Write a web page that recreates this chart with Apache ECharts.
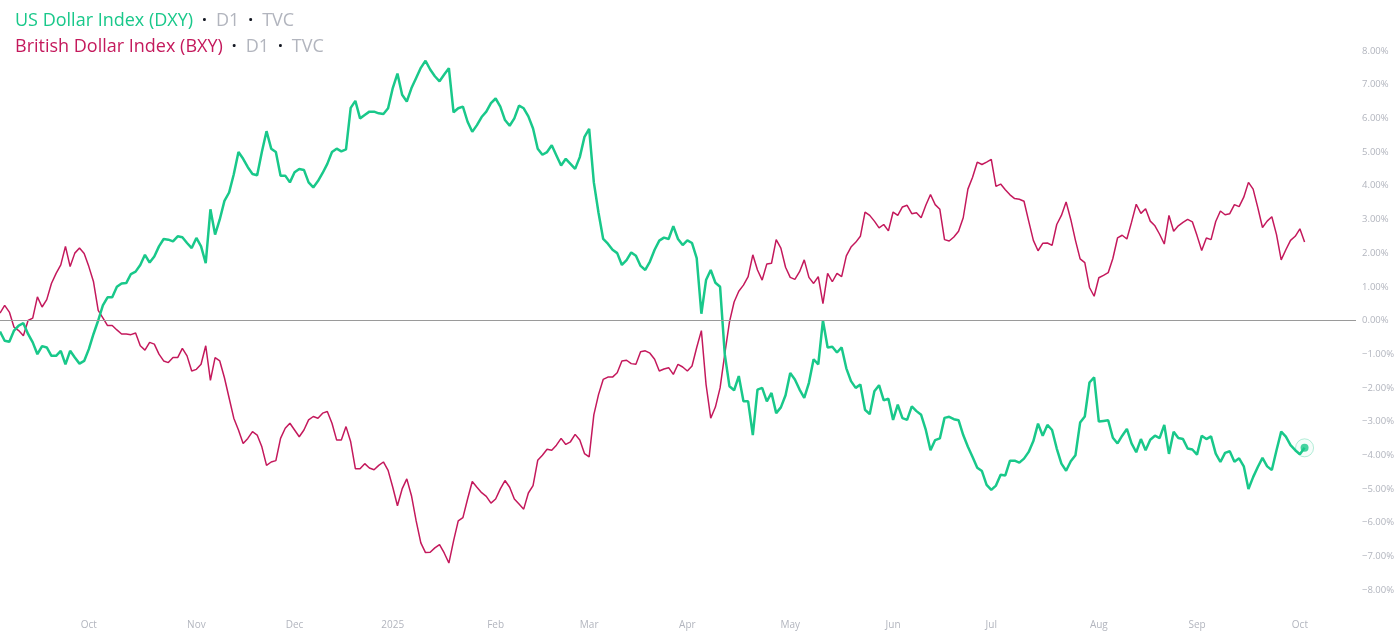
<!DOCTYPE html>
<html>
<head>
<meta charset="utf-8">
<script src="https://cdn.jsdelivr.net/npm/echarts@6/dist/echarts.min.js"></script>
<style>
  html, body { margin: 0; padding: 0; background: #ffffff; }
  #chart { width: 1400px; height: 635px; }
</style>
</head>
<body>
<div id="chart"></div>
<script>
// Percent change, one value per trading day starting 2024-09-04
const dxy = [
  -0.33,-0.6,-0.63,-0.3,-0.15,-0.08,-0.4,-0.65,-1.0,-0.76,
  -0.8,-1.05,-1.05,-0.9,-1.3,-0.9,-1.1,-1.28,-1.2,-0.85,
  -0.4,0.0,0.45,0.69,0.69,1.0,1.1,1.11,1.38,1.45,
  1.65,1.95,1.72,1.9,2.2,2.42,2.4,2.35,2.5,2.47,
  2.3,2.15,2.45,2.2,1.7,3.3,2.55,3.0,3.55,3.8,
  4.34,5.0,4.8,4.55,4.35,4.31,5.0,5.62,5.1,5.0,
  4.3,4.3,4.1,4.4,4.5,4.47,4.1,3.95,4.14,4.38,
  4.65,5.0,5.1,5.02,5.08,6.31,6.52,6.0,6.1,6.2,
  6.2,6.15,6.13,6.3,6.9,7.33,6.7,6.5,6.9,7.2,
  7.5,7.71,7.45,7.25,7.1,7.3,7.49,6.18,6.3,6.35,
  5.9,5.6,5.8,6.04,6.2,6.45,6.59,6.35,5.95,5.78,
  6.0,6.38,6.3,6.06,5.7,5.1,4.92,5.0,5.2,4.9,
  4.6,4.8,4.65,4.5,4.85,5.45,5.69,4.1,3.2,2.42,
  2.28,2.1,2.0,1.65,1.79,2.02,1.92,1.62,1.5,1.75,
  2.1,2.37,2.46,2.42,2.8,2.42,2.24,2.38,2.3,1.85,
  0.2,1.2,1.5,1.12,1.0,-1.0,-1.95,-2.07,-1.65,-2.4,
  -2.4,-3.4,-2.05,-2.0,-2.4,-2.15,-2.75,-2.58,-2.22,-1.56,
  -1.75,-2.05,-2.3,-1.85,-1.15,-1.3,0.0,-0.8,-0.78,-0.95,
  -0.8,-1.42,-1.8,-2.0,-1.9,-2.65,-2.78,-2.1,-1.92,-2.37,
  -2.32,-2.95,-2.5,-2.9,-2.95,-2.55,-2.69,-2.8,-3.25,-3.85,
  -3.55,-3.5,-2.89,-2.86,-2.93,-2.96,-3.4,-3.75,-4.05,-4.37,
  -4.47,-4.88,-5.03,-4.9,-4.58,-4.6,-4.16,-4.16,-4.22,-4.1,
  -3.9,-3.58,-3.06,-3.42,-3.1,-3.25,-3.8,-4.25,-4.46,-4.18,
  -4.0,-3.03,-2.85,-1.84,-1.69,-3.0,-2.98,-2.96,-3.48,-3.65,
  -3.42,-3.22,-3.65,-3.91,-3.52,-3.85,-3.54,-3.42,-3.49,-3.1,
  -3.96,-3.3,-3.49,-3.52,-3.8,-3.83,-3.98,-3.42,-3.52,-3.44,
  -3.95,-4.2,-3.93,-3.88,-4.19,-4.09,-4.33,-5.0,-4.65,-4.35,
  -4.08,-4.33,-4.44,-3.85,-3.3,-3.45,-3.7,-3.85,-3.97,-3.78
];
const bxy = [
  0.22,0.45,0.25,-0.2,-0.3,-0.45,0.0,0.07,0.7,0.4,
  0.62,1.1,1.4,1.65,2.2,1.6,2.0,2.15,1.99,1.6,
  1.15,0.3,0.08,-0.15,-0.15,-0.28,-0.4,-0.4,-0.42,-0.37,
  -0.75,-0.88,-0.65,-0.7,-1.0,-1.2,-1.25,-1.1,-1.1,-0.83,
  -1.05,-1.5,-1.45,-1.3,-0.75,-1.78,-1.1,-1.2,-1.7,-2.3,
  -2.9,-3.25,-3.65,-3.5,-3.3,-3.4,-3.75,-4.3,-4.2,-4.16,
  -3.5,-3.2,-3.05,-3.25,-3.45,-3.25,-2.95,-2.85,-2.9,-2.75,
  -2.7,-3.05,-3.55,-3.55,-3.15,-3.6,-4.4,-4.4,-4.25,-4.38,
  -4.43,-4.3,-4.2,-4.45,-4.95,-5.5,-5.0,-4.7,-5.2,-5.95,
  -6.6,-6.89,-6.88,-6.75,-6.65,-6.9,-7.2,-6.54,-5.95,-5.85,
  -5.3,-4.78,-4.95,-5.11,-5.22,-5.42,-5.3,-5.0,-4.75,-4.95,
  -5.3,-5.45,-5.6,-5.12,-4.9,-4.15,-4.0,-3.82,-3.85,-3.7,
  -3.5,-3.68,-3.6,-3.38,-3.55,-3.95,-4.05,-2.8,-2.2,-1.75,
  -1.68,-1.68,-1.55,-1.2,-1.18,-1.28,-1.3,-0.93,-0.9,-0.97,
  -1.15,-1.5,-1.44,-1.4,-1.6,-1.3,-1.38,-1.5,-1.35,-0.8,
  -0.3,-1.9,-2.9,-2.57,-2.0,-1.0,-0.05,0.55,0.87,1.05,
  1.3,1.95,1.5,1.2,1.68,1.7,2.4,2.15,1.58,1.28,
  1.22,1.45,1.8,1.28,1.1,1.3,0.5,1.4,1.15,1.4,
  1.3,1.92,2.18,2.32,2.5,3.22,3.12,2.95,2.75,2.85,
  2.66,3.22,3.12,3.37,3.42,3.17,3.2,3.05,3.42,3.74,
  3.44,3.3,2.4,2.36,2.48,2.65,3.05,3.9,4.25,4.7,
  4.63,4.7,4.78,3.98,4.05,3.88,3.73,3.62,3.6,3.54,
  2.95,2.38,2.07,2.29,2.3,2.23,2.85,3.12,3.52,3.0,
  2.38,1.83,1.72,0.98,0.72,1.27,1.34,1.42,1.84,2.45,
  2.53,2.42,2.92,3.45,3.18,3.32,2.95,2.81,2.56,2.27,
  3.12,2.65,2.81,2.91,3.0,2.93,2.52,2.08,2.45,2.4,
  2.94,3.25,3.14,3.17,3.44,3.38,3.66,4.1,3.9,3.35,
  2.76,2.95,3.08,2.55,1.8,2.1,2.38,2.5,2.72,2.33
];
const monthNames = ['Jan','Feb','Mar','Apr','May','Jun','Jul','Aug','Sep','Oct','Nov','Dec'];
const yTicks = [-8,-7,-6,-5,-4,-3,-2,-1,0,1,2,3,4,5,6,7,8];

// Trading-day calendar (weekdays, no Dec 25 / Jan 1), with empty space after the last bar
function tradingDays(y, m, d, count) {
  const out = [];
  const dt = new Date(Date.UTC(y, m, d));
  while (out.length < count) {
    const wd = dt.getUTCDay();
    const md = (dt.getUTCMonth() + 1) * 100 + dt.getUTCDate();
    if (wd !== 0 && wd !== 6 && md !== 1225 && md !== 101) out.push(dt.toISOString().slice(0, 10));
    dt.setUTCDate(dt.getUTCDate() + 1);
  }
  return out;
}
const categories = tradingDays(2024, 8, 4, 291);

const GREEN = '#19c88a';
const RED = '#c4195c';
const GRAY = '#b2b5be';
const last = dxy.length - 1;

function titleRich(color) {
  return {
    a: { color: color, fontSize: 18, fontWeight: 'normal', fontFamily: 'Open Sans', lineHeight: 22 },
    d: { color: '#131722', fontSize: 17, fontWeight: 'bold', fontFamily: 'Open Sans', padding: [0, 9, 0, 9], lineHeight: 22 },
    b: { color: GRAY, fontSize: 18, fontWeight: 'normal', fontFamily: 'Open Sans', lineHeight: 22 }
  };
}

const chart = echarts.init(document.getElementById('chart'), null, { renderer: 'canvas' });
chart.setOption({
  animation: false,
  backgroundColor: '#ffffff',
  title: [
    {
      left: 15, top: 10, padding: 0,
      text: '{a|US Dollar Index (DXY)}{d|·}{b|D1}{d|·}{b|TVC}',
      textStyle: { fontWeight: 'normal', rich: titleRich(GREEN) }
    },
    {
      left: 15, top: 36, padding: 0,
      text: '{a|British Dollar Index (BXY)}{d|·}{b|D1}{d|·}{b|TVC}',
      textStyle: { fontWeight: 'normal', rich: titleRich(RED) }
    }
  ],
  grid: { left: 0, right: 44, top: 51, bottom: 45, containLabel: false },
  xAxis: {
    type: 'category',
    data: categories,
    boundaryGap: false,
    axisLine: { show: false },
    axisTick: { show: false },
    splitLine: { show: false },
    axisLabel: {
      color: GRAY,
      fontSize: 10,
      fontFamily: 'Open Sans',
      margin: 30,
      hideOverlap: false,
      interval: function (idx) {
        return idx > 0 && categories[idx].slice(0, 7) !== categories[idx - 1].slice(0, 7);
      },
      formatter: function (val) {
        const m = +val.slice(5, 7);
        return m === 1 ? val.slice(0, 4) : monthNames[m - 1];
      }
    }
  },
  yAxis: {
    type: 'value',
    position: 'right',
    min: yTicks[0],
    max: yTicks[yTicks.length - 1],
    interval: 1,
    axisLine: { show: false },
    axisTick: { show: false },
    splitLine: { show: false },
    axisLabel: {
      color: GRAY,
      fontSize: 9.5,
      fontFamily: 'Open Sans',
      margin: 6,
      formatter: function (v) {
        return (v < 0 ? '\u2212' : '') + Math.abs(v).toFixed(2) + '%';
      }
    }
  },
  series: [
    {
      name: 'British Dollar Index (BXY)',
      type: 'line',
      data: bxy,
      showSymbol: false,
      lineStyle: { color: RED, width: 1.5 },
      itemStyle: { color: RED },
      markLine: {
        silent: true,
        symbol: 'none',
        label: { show: false },
        lineStyle: { color: '#9a9a9a', width: 1, type: 'solid' },
        data: [{ yAxis: 0 }]
      },
      z: 2
    },
    {
      name: 'US Dollar Index (DXY)',
      type: 'line',
      data: dxy,
      showSymbol: false,
      lineStyle: { color: GREEN, width: 2.5 },
      itemStyle: { color: GREEN },
      z: 3
    },
    {
      type: 'scatter',
      data: [[last, dxy[last]]],
      symbolSize: 18,
      itemStyle: { color: 'rgba(25,200,138,0.05)', borderColor: 'rgba(25,200,138,0.4)', borderWidth: 1 },
      silent: true,
      z: 4
    },
    {
      type: 'scatter',
      data: [[last, dxy[last]]],
      symbolSize: 8,
      itemStyle: { color: GREEN },
      silent: true,
      z: 5
    }
  ]
});
</script>
</body>
</html>
